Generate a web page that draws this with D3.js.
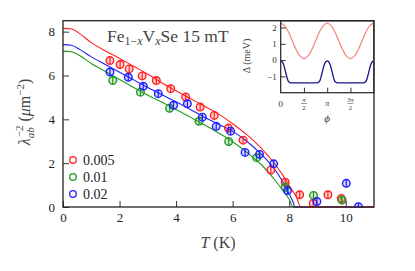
<!DOCTYPE html>
<html>
<head>
<meta charset="utf-8">
<script src="https://cdn.jsdelivr.net/npm/d3@7"></script>
<style>
  body { margin: 0; background: #fff; }
  svg { font-family: "Liberation Serif", serif; }
</style>
</head>
<body>
<svg id="chart" width="415" height="271"></svg>
<script>
var width = 415,
    height = 271;

// measured points (T in K, lambda^-2 in um^-2)
var redT   = [1.66, 2.02, 2.34, 2.80, 3.30, 3.81, 4.34, 4.85, 5.35, 5.85, 6.37, 7.35, 7.86, 8.37, 8.85, 9.37, 9.84];
var redL   = [6.68, 6.50, 6.30, 5.98, 5.77, 5.40, 5.02, 4.56, 4.18, 3.60, 3.05, 1.69, 1.13, 0.56, 0.17, 0.56, 0.39];
var greenT = [1.76, 2.74, 3.77, 4.81, 5.86, 6.85, 7.86, 8.86, 9.87];
var greenL = [5.77, 5.24, 4.50, 3.91, 2.99, 2.25, 0.90, 0.53, 0.32];
var blueT  = [1.66, 2.31, 2.84, 3.37, 3.91, 4.40, 4.93, 5.42, 5.93, 6.44, 6.95, 7.45, 7.94, 8.98, 10.02, 10.45];
var blueL  = [6.16, 5.92, 5.51, 5.17, 4.64, 4.71, 4.10, 3.68, 3.46, 2.49, 2.40, 1.97, 0.75, 0.25, 1.08, 0.01];

// fitted curves
var fitT      = [0, 0.3, 0.6, 1, 1.5, 2, 2.5, 3, 3.5, 4, 4.5, 5, 5.5, 6, 6.5, 7, 7.5, 7.75, 8, 8.15, 8.2, 8.25, 8.41, 11];
var fitRed    = [8.15, 8.12, 7.90, 7.50, 7.12, 6.78, 6.42, 6.06, 5.66, 5.30, 4.95, 4.60, 4.25, 3.80, 3.30, 2.70, 1.95, 1.50, 0.98, 0.68, 0.58, 0.48, 0, 0];
var fitBlue   = [7.41, 7.38, 7.18, 6.85, 6.50, 6.15, 5.80, 5.45, 5.12, 4.80, 4.45, 4.10, 3.78, 3.45, 3.00, 2.42, 1.70, 1.20, 0.60, 0.18, 0, 0, 0, 0];
var fitGreen  = [7.11, 7.08, 6.90, 6.55, 6.18, 5.82, 5.45, 5.10, 4.78, 4.45, 4.10, 3.75, 3.38, 2.98, 2.50, 1.95, 1.22, 0.80, 0.35, 0, 0, 0, 0, 0];

var legendLabels = ["0.005", "0.01", "0.02"];
var colors = ["#ff2020", "#1f9a1f", "#2020ff"];
var xTicks = [0, 2, 4, 6, 8, 10];
var yTicks = [0, 2, 4, 6, 8];

// inset: gap vs angle (phi in units of pi)
var phiA   = [0, 1/12, 2/12, 3/12, 4/12, 5/12, 6/12, 7/12, 8/12, 9/12, 10/12, 11/12, 1,
              13/12, 14/12, 15/12, 16/12, 17/12, 18/12, 19/12, 20/12, 21/12, 22/12, 23/12, 2];
var gapA   = [2.27, 2.12, 1.73, 1.18, 0.64, 0.24, 0.09, 0.24, 0.64, 1.18, 1.73, 2.12, 2.27,
              2.12, 1.73, 1.18, 0.64, 0.24, 0.09, 0.24, 0.64, 1.18, 1.73, 2.12, 2.27];
var phiB   = [0, 0.03, 0.06, 0.09, 0.12, 0.15, 0.18, 0.22, 0.5, 0.78, 0.82, 0.85, 0.88, 0.91, 0.94, 0.97, 1,
              1.03, 1.06, 1.09, 1.12, 1.15, 1.18, 1.22, 1.5, 1.78, 1.82, 1.85, 1.88, 1.91, 1.94, 1.97, 2];
var gapB   = [-0.05, -0.1, -0.25, -0.55, -0.9, -1.2, -1.35, -1.4, -1.4, -1.4, -1.35, -1.2, -0.9, -0.55, -0.25, -0.1, -0.05,
              -0.1, -0.25, -0.55, -0.9, -1.2, -1.35, -1.4, -1.4, -1.4, -1.35, -1.2, -0.9, -0.55, -0.25, -0.1, -0.05];
var insetYTicks = [-1, 0, 1, 2];

var svg = d3.select("#chart");

var x = d3.scaleLinear().domain([0, 11]).range([63, 374]);
var y = d3.scaleLinear().domain([0, 8.5]).range([207, 20.7]);

var series = [
  {fit: fitRed, T: redT, L: redL},
  {fit: fitGreen, T: greenT, L: greenL},
  {fit: fitBlue, T: blueT, L: blueL}
];

svg.append("clipPath").attr("id", "plotclip")
  .append("rect").attr("x", x(0)).attr("y", y(8.5))
  .attr("width", x(11) - x(0)).attr("height", y(0) - y(8.5) + 1);

var plot = svg.append("g").attr("clip-path", "url(#plotclip)");

var line = d3.line()
  .x(function(d) { return x(d[0]); })
  .y(function(d) { return y(d[1]); })
  .curve(d3.curveMonotoneX);

// fits: green first, then blue, red on top
[1, 2, 0].forEach(function(i) {
  var s = series[i];
  plot.append("path")
    .datum(fitT.map(function(t, j) { return [t, s.fit[j]]; }))
    .attr("d", line)
    .attr("fill", "none")
    .attr("stroke", colors[i])
    .attr("stroke-width", 1.1);
});

[0, 1, 2].forEach(function(i) {
  var s = series[i];
  var pts = s.T.map(function(t, j) { return [t, s.L[j]]; });
  var g = plot.append("g");
  g.selectAll("circle").data(pts).enter().append("circle")
    .attr("cx", function(d) { return x(d[0]); })
    .attr("cy", function(d) { return y(d[1]); })
    .attr("r", 3.8)
    .attr("fill", colors[i])
    .attr("fill-opacity", 0.2)
    .attr("stroke", colors[i])
    .attr("stroke-width", 1.4);
  g.selectAll("line").data(pts).enter().append("line")
    .attr("x1", function(d) { return x(d[0]); })
    .attr("x2", function(d) { return x(d[0]); })
    .attr("y1", function(d) { return y(d[1]) - 3.8; })
    .attr("y2", function(d) { return y(d[1]) + 3.8; })
    .attr("stroke", colors[i])
    .attr("stroke-width", 1.2);
});

// axes
var xAxis = svg.append("g")
  .attr("transform", "translate(0," + y(0) + ")")
  .call(d3.axisBottom(x).tickValues(xTicks).tickSize(-6).tickPadding(6).tickFormat(d3.format("d")));
var yAxis = svg.append("g")
  .attr("transform", "translate(" + x(0) + ",0)")
  .call(d3.axisLeft(y).tickValues(yTicks).tickSize(-6).tickPadding(8).tickFormat(d3.format("d")));
[xAxis, yAxis].forEach(function(a) {
  a.select(".domain").remove();
  a.selectAll(".tick line").attr("stroke", "#333").attr("stroke-width", 1);
  a.selectAll(".tick text").attr("font-family", "Liberation Serif").attr("font-size", 13).attr("fill", "#222");
});

svg.append("rect")
  .attr("x", x(0)).attr("y", y(8.5))
  .attr("width", x(11) - x(0)).attr("height", y(0) - y(8.5))
  .attr("fill", "none").attr("stroke", "#222").attr("stroke-width", 1.3);

// title
var title = svg.append("text").attr("x", 107).attr("y", 42)
  .attr("font-size", 17.5).attr("fill", "#444");
title.append("tspan").text("Fe");
title.append("tspan").attr("font-size", 12).attr("dy", 3).text("1−");
title.append("tspan").attr("font-size", 12).attr("font-style", "italic").text("x");
title.append("tspan").attr("dy", -3).text("V");
title.append("tspan").attr("font-size", 12).attr("font-style", "italic").attr("dy", 3).text("x");
title.append("tspan").attr("dy", -3).text("Se 15 mT");

// legend
legendLabels.forEach(function(lab, i) {
  var ly = 160 + i * 17;
  svg.append("circle").attr("cx", 73).attr("cy", ly).attr("r", 3.3)
    .attr("fill", "none").attr("stroke", colors[i]).attr("stroke-width", 1.3);
  svg.append("text").attr("x", 83).attr("y", ly + 5)
    .attr("font-size", 14).attr("fill", "#222").text(lab);
});

// axis labels
var xl = svg.append("text").attr("x", 218).attr("y", 248)
  .attr("text-anchor", "middle").attr("font-size", 16).attr("fill", "#444");
xl.append("tspan").attr("font-style", "italic").text("T");
xl.append("tspan").text(" (K)");

var yl = svg.append("text")
  .attr("transform", "translate(30,112) rotate(-90)")
  .attr("text-anchor", "middle").attr("font-size", 16).attr("fill", "#444");
yl.append("tspan").attr("font-style", "italic").text("λ");
yl.append("tspan").attr("font-style", "italic").attr("font-size", 11).attr("dy", 4).text("ab");
yl.append("tspan").attr("font-size", 11).attr("dx", -10).attr("dy", -11).text("−2");
yl.append("tspan").attr("dy", 7).text(" (");
yl.append("tspan").attr("font-style", "italic").text("μ");
yl.append("tspan").text("m");
yl.append("tspan").attr("font-size", 11).attr("dy", -6).text("−2");
yl.append("tspan").attr("dy", 6).text(")");

// inset
var ix = d3.scaleLinear().domain([0, 2]).range([280.7, 373.7]);
var iy = d3.scaleLinear().domain([-2, 2.4]).range([92.7, 21]);

var inset = svg.append("g");
inset.append("rect").attr("x", ix(0)).attr("y", iy(2.4))
  .attr("width", ix(2) - ix(0)).attr("height", iy(-2) - iy(2.4))
  .attr("fill", "#fff");

var iline = d3.line()
  .x(function(d) { return ix(d[0]); })
  .y(function(d) { return iy(d[1]); })
  .curve(d3.curveCatmullRom);

inset.append("path")
  .datum(phiA.map(function(p, j) { return [p, gapA[j]]; }))
  .attr("d", iline).attr("fill", "none").attr("stroke", "#f4857c").attr("stroke-width", 1.2);
inset.append("path")
  .datum(phiB.map(function(p, j) { return [p, gapB[j]]; }))
  .attr("d", d3.line().x(function(d) { return ix(d[0]); }).y(function(d) { return iy(d[1]); }).curve(d3.curveMonotoneX))
  .attr("fill", "none").attr("stroke", "#15158a").attr("stroke-width", 1.3);

var iyAxis = inset.append("g")
  .attr("transform", "translate(" + ix(0) + ",0)")
  .call(d3.axisLeft(iy).tickValues(insetYTicks).tickSize(-5).tickPadding(4)
    .tickFormat(function(d) { return d < 0 ? "−" + (-d) : d; }));
var ixAxis = inset.append("g")
  .attr("transform", "translate(0," + iy(-2) + ")")
  .call(d3.axisBottom(ix).tickValues([0.5, 1, 1.5]).tickSize(-5).tickFormat(""));
[iyAxis, ixAxis].forEach(function(a) {
  a.select(".domain").remove();
  a.selectAll(".tick line").attr("stroke", "#333");
  a.selectAll(".tick text").attr("font-family", "Liberation Serif").attr("font-size", 9).attr("fill", "#333");
});

inset.append("rect").attr("x", ix(0)).attr("y", iy(2.4))
  .attr("width", ix(2) - ix(0)).attr("height", iy(-2) - iy(2.4))
  .attr("fill", "none").attr("stroke", "#222").attr("stroke-width", 1.2);

// inset x tick labels (fractions of pi)
inset.append("text").attr("x", ix(0)).attr("y", 107).attr("text-anchor", "middle")
  .attr("font-size", 9).attr("fill", "#333").text("0");
inset.append("text").attr("x", ix(1)).attr("y", 106).attr("text-anchor", "middle")
  .attr("font-size", 8).attr("font-style", "italic").attr("fill", "#333").text("π");
[[0.5, "π"], [1.5, "3π"]].forEach(function(f) {
  var cx = ix(f[0]);
  inset.append("text").attr("x", cx).attr("y", 102).attr("text-anchor", "middle")
    .attr("font-size", 6.5).attr("font-style", "italic").attr("fill", "#333").text(f[1]);
  inset.append("line").attr("x1", cx - 3).attr("x2", cx + 3).attr("y1", 103.5).attr("y2", 103.5)
    .attr("stroke", "#333").attr("stroke-width", 0.5);
  inset.append("text").attr("x", cx).attr("y", 109.5).attr("text-anchor", "middle")
    .attr("font-size", 6.5).attr("fill", "#333").text("2");
});
inset.append("text").attr("x", ix(1)).attr("y", 122).attr("text-anchor", "middle")
  .attr("font-size", 11).attr("font-style", "italic").attr("fill", "#333").text("ϕ");

inset.append("text")
  .attr("transform", "translate(250,56) rotate(-90)")
  .attr("text-anchor", "middle").attr("font-size", 10).attr("fill", "#444")
  .text("Δ (meV)");
</script>
</body>
</html>
